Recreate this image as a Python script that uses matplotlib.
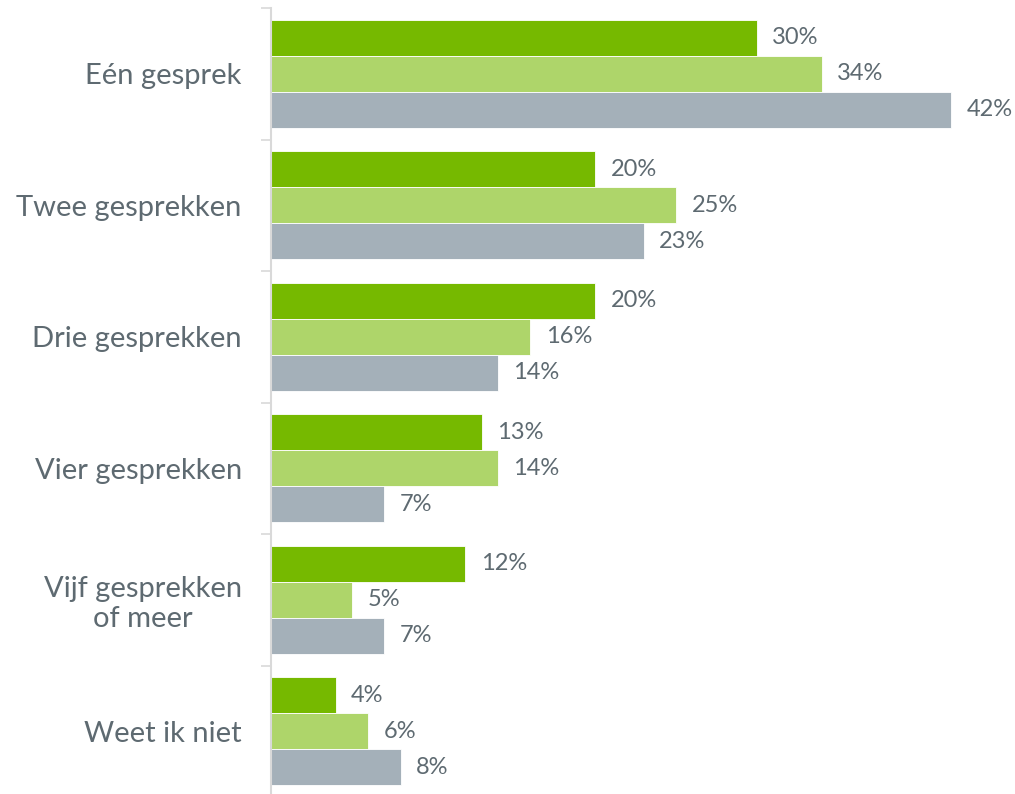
import matplotlib
matplotlib.use("Agg")
import numpy as np
import matplotlib.pyplot as plt

categories = ["Eén gesprek", "Twee gesprekken", "Drie gesprekken",
              "Vier gesprekken", "Vijf gesprekken\nof meer", "Weet ik niet"]
series_a = [30, 20, 20, 13, 12, 4]
series_b = [34, 25, 16, 14, 5, 6]
series_c = [42, 23, 14, 7, 7, 8]

colors = ["#76B900", "#AED56A", "#A4B0B9"]
text_color = "#5E6A71"
axis_color = "#D9D9D9"

plt.rcParams['font.family'] = ['Lato', 'DejaVu Sans']

fig = plt.figure(figsize=(10.15, 7.94), dpi=100)
ax = fig.add_axes([271 / 1015, -3 / 794, 729 / 1015, 789 / 794])

y = np.arange(len(categories))
h = 0.274
for i, (vals, col) in enumerate(zip([series_a, series_b, series_c], colors)):
    pos = y + (i - 1) * h
    bars = ax.barh(pos, vals, height=h, color=col, edgecolor="white", linewidth=0.6)
    for b, v in zip(bars, vals):
        ax.text(v + 0.95, b.get_y() + b.get_height() / 2, f"{v}%",
                va="center", ha="left", fontsize=17, color=text_color)

ax.set_xlim(0, 45)
ax.set_ylim(5.5, -0.5)
ax.set_yticks(y)
ax.set_yticklabels(categories, fontsize=21, color=text_color,
                   multialignment="center")
ax.set_yticks(np.arange(-0.5, 6, 1), minor=True)
ax.tick_params(axis="y", which="major", length=0, pad=21)
ax.tick_params(axis="y", which="minor", length=7, width=1.2, color=axis_color)
ax.set_xticks([])
for s in ["top", "right", "bottom"]:
    ax.spines[s].set_visible(False)
ax.spines["left"].set_color(axis_color)
ax.spines["left"].set_linewidth(1.5)

fig.savefig("out.png", dpi=100)
